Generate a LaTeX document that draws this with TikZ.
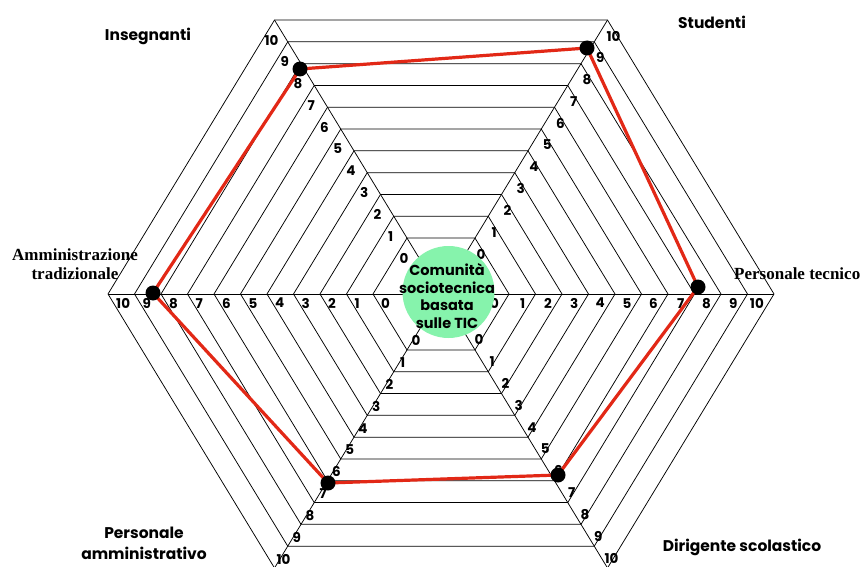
\documentclass[tikz,border=0pt]{standalone}
\usepackage{fontspec}
\newfontfamily\gothic{Poppins}
\newfontfamily\timesf{Liberation Serif}
\usetikzlibrary{calc}
\definecolor{coregreen}{RGB}{134,243,172}
\definecolor{datared}{RGB}{226,40,22}

\begin{document}
\begin{tikzpicture}[x=1pt,y=-1pt,
  ring/.style={draw=black,line width=0.75pt},
  axisline/.style={draw=black,line width=0.75pt},
  tick/.style={font=\gothic\bfseries\fontsize{13.5}{14}\selectfont,inner sep=0pt},
  cat/.style={font=\gothic\bfseries\fontsize{15.5}{21}\selectfont,align=center,inner sep=0pt},
  catserif/.style={font=\timesf\bfseries\fontsize{17}{18.5}\selectfont,align=center,inner sep=0pt},
  datapath/.style={draw=datared,line width=3.2pt,line join=round},
  datadot/.style={circle,fill=black,minimum size=15pt,inner sep=0pt}]
\useasboundingbox (0,0) rectangle (864,567);
\coordinate (ctr) at (441,294);

% nested hexagonal scales 0..10
\foreach \k in {0,...,10}{
  \pgfmathsetmacro\rr{68+26.5*\k}
  \foreach \i in {0,...,5}{
    \coordinate (h\k-\i) at ({441+\rr*cos(60*\i)},{294-0.95*\rr*sin(60*\i)});
  }
  \draw[ring] (h\k-0) -- (h\k-1) -- (h\k-2) -- (h\k-3) -- (h\k-4) -- (h\k-5) -- cycle;
}

% six axes
\foreach \i in {0,...,5}{
  \draw[axisline] (ctr) -- (h10-\i);
}

% scale numbers along every axis
\foreach \i/\dx/\dy/\anc in {0/-10/4/north east, 1/6/16/center, 2/-3/20/center,
                             3/8/4/north west, 4/9/-9/center, 5/4/-10/center}{
  \foreach \k in {0,...,10}{
    \node[tick,anchor=\anc,shift={(\dx,\dy)}] (t\i-\k) at (h\k-\i) {\k};
  }
}

% central element
\node[circle,fill=coregreen,minimum size=92pt,inner sep=0pt] (core) at (448.5,292) {};
\node[font=\gothic\bfseries\fontsize{14.5}{17.5}\selectfont,align=center,inner sep=0pt]
  (coretext) at (447,296) {Comunità\\sociotecnica\\basata\\sulle TIC};

% profile
\coordinate (pIns) at (300,69);
\coordinate (pStu) at (587,48);
\coordinate (pTec) at (698,287);
\coordinate (pDir) at (558,475);
\coordinate (pAmm) at (328,483);
\coordinate (pTra) at (153,293);
\draw[datapath] (pIns) -- (pStu) -- (pTec) -- (pDir) -- (pAmm) -- (pTra) -- cycle;
\foreach \p in {Ins,Stu,Tec,Dir,Amm,Tra}{
  \node[datadot] (dot\p) at (p\p) {};
}

% axis titles
\node[cat] (lIns) at (148,36) {Insegnanti};
\node[cat] (lStu) at (712,22) {Studenti};
\node[catserif,anchor=west] (lTec) at (734,274) {Personale tecnico};
\node[cat] (lDir) at (742,547) {Dirigente scolastico};
\node[cat] (lAmm) at (144,543) {Personale\\amministrativo};
\node[catserif] (lTra) at (75,264) {Amministrazione\\tradizionale};
\end{tikzpicture}
\end{document}
